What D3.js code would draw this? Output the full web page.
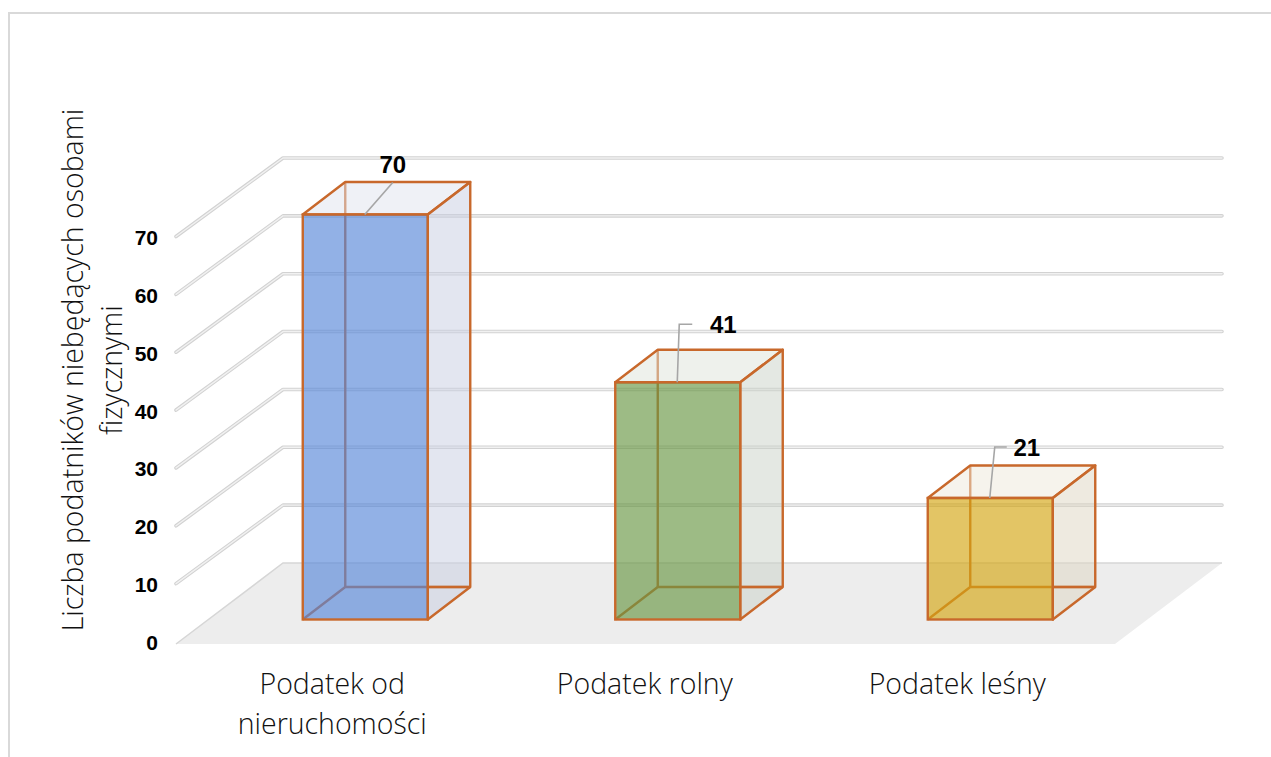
<!DOCTYPE html>
<html>
<head>
<meta charset="utf-8">
<script src="https://cdn.jsdelivr.net/npm/d3@7"></script>
<style>
  html, body { margin: 0; padding: 0; background: #fff; }
  svg { display: block; }
  .tick-label { font-family: "Liberation Sans", Arial, sans-serif; font-weight: 700; font-size: 21px; fill: #000; }
  .value-label { font-family: "Liberation Sans", Arial, sans-serif; font-weight: 700; font-size: 24px; fill: #000; }
  .cat-label, .y-title { font-family: "Open Sans", sans-serif; font-weight: 300; fill: #111; }
  .cat-label { font-size: 28.5px; }
  .y-title { font-size: 28.5px; }
</style>
</head>
<body>
<div id="chart"></div>
<script>
var categories = ["Podatek od nieruchomości", "Podatek rolny", "Podatek leśny"];
var categoryLines = [["Podatek od", "nieruchomości"], ["Podatek rolny"], ["Podatek leśny"]];
var values = [70, 41, 21];
var yTicks = [0, 10, 20, 30, 40, 50, 60, 70];
var yTitleLines = ["Liczba podatników niebędących osobami", "fizycznymi"];
var frontColors = ["#5787D9", "#689644", "#D4A612"];
var sideColors = ["#C7CDE1", "#C9D1C7", "#DDD5C1"];
var topColors = ["#DFE3ED", "#DDE3D9", "#EDE7D9"];

var w = 1271, h = 757;

var svg = d3.select("#chart").append("svg")
  .attr("width", w)
  .attr("height", h);

// outer frame, only top and left show
svg.append("path")
  .attr("d", d3.line()([[9, 757], [9, 13], [1271, 13]]))
  .attr("fill", "none")
  .attr("stroke", "#d9d9d9")
  .attr("stroke-width", 2);

// front edge of the 3d box
var plotLeft = 176, plotRight = 1115;
var x = d3.scaleBand().domain(categories).range([plotLeft, 1113.5]);
var y = d3.scaleLinear().domain([0, 70]).range([641.5, 236.5]);

// wall depth and bar placement inside it
var depth = { dx: 107, dy: -78.5 };
var barDepth = { dx: 42.5, dy: -32.5 };
var barShift = { dx: 33, dy: -22 };
var barW = 125;
var floorLip = 2.5;

var line = d3.line();

// floor
svg.append("polygon")
  .attr("points", [
    [plotLeft, y(0) + floorLip], [plotLeft + depth.dx, y(0) + depth.dy],
    [plotRight + depth.dx, y(0) + depth.dy], [plotRight, y(0) + floorLip]
  ].join(" "))
  .attr("fill", "#ededed");

// gridlines, drawn twice to get the hollow look
yTicks.forEach(function(t) {
  var pts = [[plotLeft, y(t)], [plotLeft + depth.dx, y(t) + depth.dy], [plotRight + depth.dx, y(t) + depth.dy]];
  if (t === 0) {
    pts[0][1] += floorLip;
    svg.append("path").attr("d", line(pts)).attr("fill", "none")
      .attr("stroke", "#d6d6d6").attr("stroke-width", 1.5);
    return;
  }
  svg.append("path").attr("d", line(pts)).attr("fill", "none")
    .attr("stroke", "#d2d2d2").attr("stroke-width", 3.6)
    .attr("stroke-linecap", "round").attr("stroke-linejoin", "round");
  svg.append("path").attr("d", line(pts)).attr("fill", "none")
    .attr("stroke", "#f1f1f1").attr("stroke-width", 1.4)
    .attr("stroke-linecap", "round").attr("stroke-linejoin", "round");
});

// y axis labels
svg.selectAll(".tick-label")
  .data(yTicks)
  .enter().append("text")
  .attr("class", "tick-label")
  .attr("x", 158)
  .attr("y", d => y(d) + 8.5)
  .attr("text-anchor", "end")
  .text(d => d);

// bars
var edge = "#C8682B";
var leaders = [
  [[0, 0], [28, -32]],
  [[0, 0], [2, -58], [15, -58]],
  [[0, 0], [5, -51], [17, -51]]
];
var leaderFrom = 62;
var labelPos = [[28, -42], [46, -49], [37, -42]];

categories.forEach(function(c, i) {
  var g = svg.append("g");
  var x0 = x(c) + (x.bandwidth() - barW) / 2 + barShift.dx;
  var yb = y(0) + barShift.dy;
  var yt = yb - (y(0) - y(values[i]));
  var x1 = x0 + barW;
  var dx = barDepth.dx, dy = barDepth.dy;

  // back edges first, faces sit on top of them
  g.append("path")
    .attr("d", line([[x0, yb], [x0 + dx, yb + dy], [x1 + dx, yb + dy]]))
    .attr("fill", "none").attr("stroke", edge).attr("stroke-width", 2.4);
  g.append("path")
    .attr("d", line([[x0 + dx, yb + dy], [x0 + dx, yt + dy]]))
    .attr("fill", "none").attr("stroke", edge).attr("stroke-width", 2.4);

  // top
  g.append("polygon")
    .attr("points", [[x0, yt], [x0 + dx, yt + dy], [x1 + dx, yt + dy], [x1, yt]].join(" "))
    .attr("fill", topColors[i]).attr("fill-opacity", 0.5)
    .attr("stroke", edge).attr("stroke-width", 2.4).attr("stroke-linejoin", "round");
  // side
  g.append("polygon")
    .attr("points", [[x1, yt], [x1 + dx, yt + dy], [x1 + dx, yb + dy], [x1, yb]].join(" "))
    .attr("fill", sideColors[i]).attr("fill-opacity", 0.5)
    .attr("stroke", edge).attr("stroke-width", 2.4).attr("stroke-linejoin", "round");
  // the floor edge behind the side face stays solid
  g.append("path")
    .attr("d", line([[x1, yb + dy], [x1 + dx, yb + dy]]))
    .attr("fill", "none").attr("stroke", edge).attr("stroke-width", 2.4);
  // front
  g.append("rect")
    .attr("x", x0).attr("y", yt)
    .attr("width", barW).attr("height", yb - yt)
    .attr("fill", frontColors[i]).attr("fill-opacity", 0.65)
    .attr("stroke", edge).attr("stroke-width", 2.4);

  // leader and value
  var lx = x0 + leaderFrom;
  g.append("path")
    .attr("d", line(leaders[i].map(p => [lx + p[0], yt + p[1]])))
    .attr("fill", "none").attr("stroke", "#a6a6a6").attr("stroke-width", 1.6);
  g.append("text")
    .attr("class", "value-label")
    .attr("x", lx + labelPos[i][0])
    .attr("y", yt + labelPos[i][1])
    .attr("text-anchor", "middle")
    .text(values[i]);

  // category label
  categoryLines[i].forEach(function(t, k) {
    svg.append("text")
      .attr("class", "cat-label")
      .attr("x", x(c) + x.bandwidth() / 2)
      .attr("y", 694 + k * 40)
      .attr("text-anchor", "middle")
      .text(t);
  });
});

// y title
yTitleLines.forEach(function(t, k) {
  svg.append("text")
    .attr("class", "y-title")
    .attr("transform", "translate(" + (83 + k * 39) + ",370) rotate(-90)")
    .attr("text-anchor", "middle")
    .text(t);
});
</script>
</body>
</html>
